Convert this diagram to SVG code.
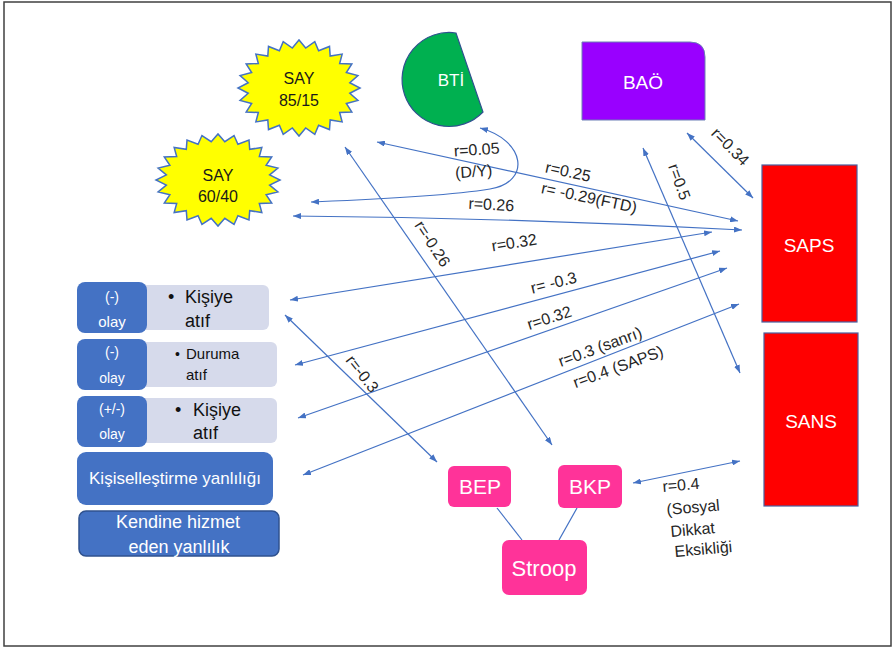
<svg xmlns="http://www.w3.org/2000/svg" xmlns:xlink="http://www.w3.org/1999/xlink" width="896" height="648" viewBox="0 0 896 648">
<style>
text{font-family:"Liberation Sans",Arial,sans-serif}
.lbl{font-size:16px;fill:#262626}
.w{fill:#ffffff}
.c{text-anchor:middle}
.dk{fill:#4472C4}
.lt{fill:#D6DAEB}
.pk{fill:#FF3399}
.conn{fill:none;stroke:#4472C4;stroke-width:1.2}
.arr{marker-start:url(#ah);marker-end:url(#ah)}
</style>
<defs>
<marker id="ah" viewBox="0 0 8 6" refX="8" refY="3" markerWidth="8" markerHeight="6" orient="auto-start-reverse" markerUnits="userSpaceOnUse">
<path d="M0,0 L8,3 L0,6 Z" fill="#4472C4"/>
</marker>
<polygon id="star" vector-effect="non-scaling-stroke" fill="#FFFF00" stroke="#4472C4" stroke-width="1.5" points="100,0 83.28,10.96 96.59,25.88 77.61,32.15 86.6,50 66.64,51.14 70.71,70.71 51.14,66.64 50,86.6 32.15,77.61 25.88,96.59 10.96,83.28 0,100 -10.96,83.28 -25.88,96.59 -32.15,77.61 -50,86.6 -51.14,66.64 -70.71,70.71 -66.64,51.14 -86.6,50 -77.61,32.15 -96.59,25.88 -83.28,10.96 -100,0 -83.28,-10.96 -96.59,-25.88 -77.61,-32.15 -86.6,-50 -66.64,-51.14 -70.71,-70.71 -51.14,-66.64 -50,-86.6 -32.15,-77.61 -25.88,-96.59 -10.96,-83.28 0,-100 10.96,-83.28 25.88,-96.59 32.15,-77.61 50,-86.6 51.14,-66.64 70.71,-70.71 66.64,-51.14 86.6,-50 77.61,-32.15 96.59,-25.88 83.28,-10.96"/>
</defs>
<rect x="4" y="2" width="887" height="644" fill="#ffffff" stroke="#404040" stroke-width="1.5"/>

<g id="connectors">
<path class="conn arr" d="M480,128 C525,140 532,182 490,189 C440,197 360,200 311,202"/>
<line class="conn arr" x1="377" y1="142" x2="738" y2="221"/>
<path class="conn arr" d="M293,216 Q520,218 742,230"/>
<line class="conn arr" x1="290" y1="300" x2="712" y2="232"/>
<line class="conn arr" x1="295" y1="365" x2="720" y2="251"/>
<line class="conn arr" x1="298" y1="418" x2="727" y2="268"/>
<line class="conn arr" x1="303" y1="475" x2="739" y2="304"/>
<line class="conn arr" x1="345" y1="147" x2="552" y2="445"/>
<line class="conn arr" x1="285" y1="315" x2="437" y2="462"/>
<line class="conn arr" x1="643" y1="148" x2="740" y2="373"/>
<line class="conn arr" x1="687" y1="133" x2="753" y2="198"/>
<line class="conn arr" x1="633" y1="483" x2="740" y2="461"/>
<line class="conn" x1="497" y1="508" x2="522" y2="540" stroke-width="1.5"/>
<line class="conn" x1="577" y1="508" x2="559" y2="540" stroke-width="1.5"/>
</g>

<g id="labels">
<text class="lbl c" transform="translate(477,155) rotate(-4)">r=0.05</text>
<text class="lbl c" transform="translate(474,177) rotate(-4)">(D/Y)</text>
<text class="lbl c" transform="translate(567,177) rotate(12)">r=0.25</text>
<text class="lbl c" transform="translate(588,203) rotate(12)">r= -0.29(FTD)</text>
<text class="lbl c" transform="translate(491,210) rotate(3)">r=0.26</text>
<text class="lbl c" transform="translate(515,248) rotate(-9)">r=0.32</text>
<text class="lbl c" transform="translate(555,288) rotate(-14)">r= -0.3</text>
<text class="lbl c" transform="translate(551,323) rotate(-18)">r=0.32</text>
<text class="lbl c" transform="translate(602,352) rotate(-20)">r=0.3 (sanrı)</text>
<text class="lbl c" transform="translate(620,372) rotate(-20)">r=0.4 (SAPS)</text>
<text class="lbl c" transform="translate(432,244) rotate(57)" dy="5">r=-0.26</text>
<text class="lbl c" transform="translate(362,374) rotate(52)" dy="5">r=-0.3</text>
<text class="lbl c" transform="translate(679,182) rotate(70)" dy="5">r=0.5</text>
<text class="lbl c" transform="translate(730,147) rotate(45)" dy="5">r=0.34</text>
<text class="lbl" font-size="15" transform="translate(663,492) rotate(-5)">r=0.4</text>
<text class="lbl" font-size="15" transform="translate(667,515) rotate(-5)">(Sosyal</text>
<text class="lbl" font-size="15" transform="translate(671,537) rotate(-5)">Dikkat</text>
<text class="lbl" font-size="15" transform="translate(675,557) rotate(-5)">Eksikliği</text>
</g>

<g id="say-85-15">
<use xlink:href="#star" href="#star" transform="translate(299,88) scale(0.61,0.48)"/>
<text class="c" x="299" y="84" font-size="16" fill="#1a1a1a">SAY</text>
<text class="c" x="299" y="106" font-size="16" fill="#1a1a1a">85/15</text>
</g>
<g id="say-60-40">
<use xlink:href="#star" href="#star" transform="translate(218,180) scale(0.62,0.46)"/>
<text class="c" x="218" y="181" font-size="16" fill="#1a1a1a">SAY</text>
<text class="c" x="218" y="202" font-size="16" fill="#1a1a1a">60/40</text>
</g>
<g id="bti">
<path d="M456,33 A47,47 0 1 0 483,112 Z" fill="#00B050" stroke="#2F528F" stroke-width="1.2"/>
<text class="w c" x="451" y="86" font-size="17">BTİ</text>
</g>
<g id="bao">
<path d="M582,42 H690 Q705,42 705,57 V120 H582 Z" fill="#9900FF" stroke="#6C7FB5" stroke-width="1"/>
<text class="w c" x="643" y="89" font-size="19">BAÖ</text>
</g>
<g id="saps">
<rect x="762" y="165" width="95" height="157" fill="#FF0000" stroke="#4A5FA0" stroke-width="1.2"/>
<text class="w c" x="809" y="252" font-size="19">SAPS</text>
</g>
<g id="sans">
<rect x="764" y="333" width="94" height="173" fill="#FF0000" stroke="#4A5FA0" stroke-width="1.2"/>
<text class="w c" x="811" y="428" font-size="19">SANS</text>
</g>

<g id="row1">
<rect class="lt" x="140" y="285" width="129" height="45" rx="6"/>
<rect class="dk" x="77" y="282" width="70" height="51" rx="8"/>
<text class="w c" x="112" y="302" font-size="14">(-)</text>
<text class="w c" x="112" y="327" font-size="15">olay</text>
<text x="168" y="303" font-size="18" fill="#111">•</text>
<text x="185" y="303" font-size="18" fill="#111">Kişiye</text>
<text x="185" y="327" font-size="18" fill="#111">atıf</text>
</g>
<g id="row2">
<rect class="lt" x="140" y="342" width="137" height="45" rx="6"/>
<rect class="dk" x="77" y="339" width="70" height="51" rx="8"/>
<text class="w c" x="112" y="357" font-size="14">(-)</text>
<text class="w c" x="112" y="383" font-size="14">olay</text>
<text x="175" y="359" font-size="14" fill="#111">•</text>
<text x="186" y="359" font-size="15" fill="#111">Duruma</text>
<text x="186" y="380" font-size="15" fill="#111">atıf</text>
</g>
<g id="row3">
<rect class="lt" x="140" y="398" width="137" height="45" rx="6"/>
<rect class="dk" x="77" y="396" width="70" height="51" rx="8"/>
<text class="w c" x="112" y="414" font-size="14">(+/-)</text>
<text class="w c" x="112" y="439" font-size="14">olay</text>
<text x="175" y="416" font-size="18" fill="#111">•</text>
<text x="193" y="416" font-size="18" fill="#111">Kişiye</text>
<text x="193" y="439" font-size="18" fill="#111">atıf</text>
</g>
<g id="kisisellestirme">
<rect class="dk" x="77" y="452" width="196" height="53" rx="9"/>
<text class="w c" x="175" y="484" font-size="17">Kişiselleştirme yanlılığı</text>
</g>
<g id="kendine">
<rect class="dk" x="79" y="511" width="200" height="45" rx="7" stroke="#2F528F" stroke-width="1.5"/>
<text class="w c" x="178" y="528" font-size="18">Kendine hizmet</text>
<text class="w c" x="179" y="553" font-size="18">eden yanlılık</text>
</g>

<g id="bep">
<rect class="pk" x="448" y="466" width="63" height="41" rx="6"/>
<text class="w c" x="480" y="494" font-size="21">BEP</text>
</g>
<g id="bkp">
<rect class="pk" x="558" y="465" width="64" height="43" rx="6"/>
<text class="w c" x="590" y="494" font-size="21">BKP</text>
</g>
<g id="stroop">
<rect class="pk" x="502" y="540" width="85" height="55" rx="7"/>
<text class="w c" x="544" y="576" font-size="22">Stroop</text>
</g>
</svg>
